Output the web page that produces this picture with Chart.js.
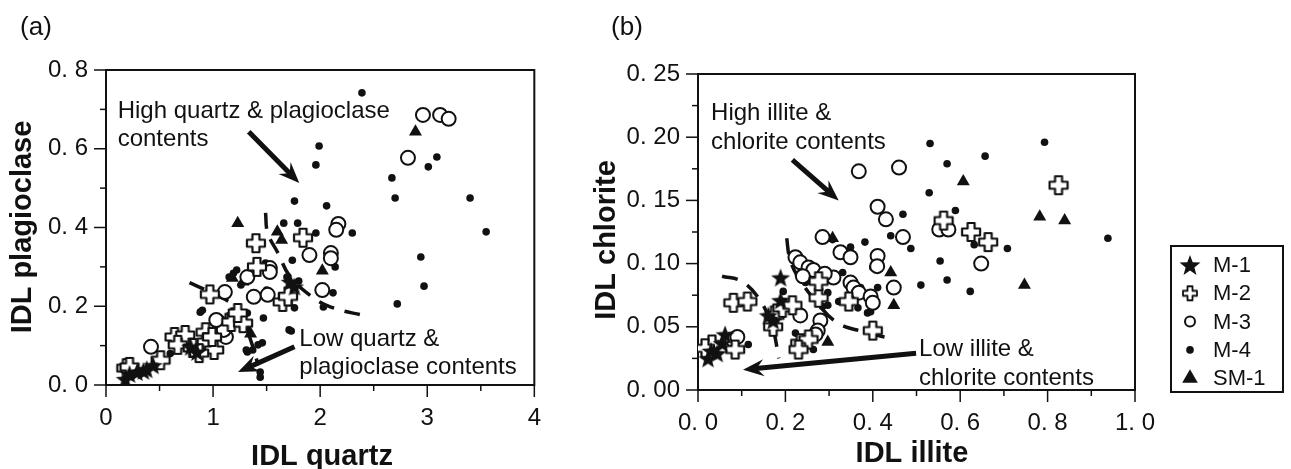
<!DOCTYPE html>
<html><head><meta charset="utf-8">
<script src="https://cdn.jsdelivr.net/npm/chart.js@4.4.0/dist/chart.umd.min.js"></script>
<style>
body{margin:0;background:#fff;width:1291px;height:469px;overflow:hidden;position:relative}
.box{position:absolute;top:0;height:469px}
#wa{left:0;width:560px}
#wb{left:560px;width:731px}
</style></head><body>
<div class="box" id="wa"><canvas id="ca"></canvas></div>
<div class="box" id="wb"><canvas id="cb"></canvas></div>
<script>
// ---- (a) IDL quartz vs IDL plagioclase ----
const seriesNames = ['M-1', 'M-2', 'M-3', 'M-4', 'SM-1'];

const aM1 = [[0.18,0.015],[0.22,0.028],[0.29,0.033],[0.35,0.036],[0.38,0.04],[0.44,0.05],[0.79,0.097],[0.85,0.084],[1.72,0.262],[1.76,0.25]];
const aM2 = [[1.40,0.36],[1.84,0.374],[1.41,0.30],[0.97,0.23],[1.20,0.172],[1.65,0.211],[1.70,0.225],[0.93,0.134],[1.17,0.16],
  [1.28,0.157],[0.64,0.122],[0.74,0.127],[0.67,0.102],[0.81,0.094],[0.94,0.109],[1.01,0.089],[0.99,0.122],[0.87,0.081],
  [0.19,0.043],[0.22,0.046],[0.51,0.063],[1.23,0.183]];
const aM3 = [[2.96,0.686],[3.12,0.686],[3.20,0.676],[2.82,0.577],[2.17,0.409],[2.15,0.394],[1.90,0.330],[2.10,0.335],
  [2.10,0.322],[2.02,0.241],[1.53,0.297],[1.32,0.274],[1.11,0.236],[1.38,0.224],[1.51,0.229],[1.05,0.16],[1.12,0.122],
  [0.42,0.097],[1.53,0.287],[1.10,0.14],[1.03,0.165]];
const aM4 = [[2.39,0.742],[1.99,0.607],[1.96,0.559],[3.09,0.579],[3.01,0.554],[2.67,0.526],[2.70,0.475],[3.40,0.475],
  [1.76,0.467],[2.06,0.455],[3.55,0.389],[2.30,0.386],[2.94,0.325],[2.97,0.251],[2.72,0.206],[1.66,0.411],[1.79,0.411],
  [1.96,0.386],[2.10,0.330],[2.12,0.317],[1.74,0.317],[1.80,0.264],[2.12,0.234],[2.03,0.198],[1.73,0.137],[1.47,0.170],
  [1.76,0.196],[1.49,0.310],[1.42,0.102],[1.37,0.089],[1.22,0.292],[1.15,0.274],[2.14,0.300],[0.88,0.185],[1.32,0.183],
  [1.69,0.274],[1.26,0.254],[1.46,0.107],[1.32,0.084],[1.44,0.020],[1.71,0.140],[1.50,0.241],[0.90,0.19],[1.19,0.284],
  [1.06,0.165],[1.31,0.089],[1.44,0.033],[1.0,0.13],[0.95,0.11],[0.85,0.09],[1.1,0.14],[1.25,0.16],[0.6,0.08]];
const aSM1 = [[1.23,0.411],[1.60,0.389],[1.64,0.368],[2.02,0.29],[2.89,0.643],[1.28,0.262],[1.18,0.272],[1.31,0.145],[1.35,0.13]];

const aBoundUpper = [[1.49,0.437],[1.51,0.386],[1.61,0.333],[1.71,0.279],[1.90,0.229],[2.10,0.198],[2.43,0.175]];
const aBoundLower = [[0.78,0.26],[1.0,0.232],[1.2,0.2],[1.3,0.15],[1.38,0.09],[1.42,0.05]];

const aXTicks = [0, 1, 2, 3, 4];
const aXLabels = ['0', '1', '2', '3', '4'];
const aYTicks = [0, 0.2, 0.4, 0.6, 0.8];
const aYLabels = ['0. 0', '0. 2', '0. 4', '0. 6', '0. 8'];

// ---- (b) IDL illite vs IDL chlorite ----
const bM1 = [[0.189,0.089],[0.161,0.059],[0.172,0.055],[0.189,0.071],[0.023,0.025],[0.044,0.029],[0.062,0.044],[0.055,0.037],[0.03,0.031]];
const bM2 = [[0.081,0.069],[0.113,0.070],[0.032,0.036],[0.085,0.032],[0.016,0.033],[0.175,0.059],[0.172,0.050],[0.193,0.065],
  [0.216,0.067],[0.234,0.037],[0.253,0.040],[0.276,0.073],[0.276,0.086],[0.345,0.070],[0.400,0.047],[0.562,0.134],
  [0.625,0.125],[0.664,0.117],[0.825,0.162],[0.23,0.032]];
const bM3 = [[0.368,0.173],[0.460,0.176],[0.411,0.145],[0.430,0.135],[0.469,0.121],[0.285,0.121],[0.326,0.109],[0.349,0.105],
  [0.411,0.106],[0.552,0.127],[0.573,0.127],[0.648,0.100],[0.223,0.105],[0.234,0.101],[0.253,0.097],[0.264,0.095],
  [0.310,0.089],[0.349,0.085],[0.356,0.081],[0.368,0.077],[0.395,0.074],[0.400,0.069],[0.448,0.081],[0.280,0.055],
  [0.274,0.047],[0.269,0.044],[0.234,0.059],[0.078,0.040],[0.090,0.042],[0.24,0.09],[0.29,0.092],[0.41,0.098]];
const bM4 = [[0.531,0.195],[0.793,0.196],[0.570,0.179],[0.657,0.185],[0.529,0.156],[0.469,0.139],[0.589,0.142],[0.441,0.122],
  [0.487,0.112],[0.632,0.115],[0.708,0.112],[0.554,0.102],[0.938,0.120],[0.570,0.087],[0.510,0.083],[0.623,0.078],
  [0.382,0.117],[0.308,0.119],[0.349,0.113],[0.400,0.097],[0.228,0.105],[0.230,0.091],[0.246,0.085],[0.297,0.077],
  [0.297,0.067],[0.331,0.093],[0.322,0.070],[0.372,0.081],[0.388,0.061],[0.411,0.081],[0.195,0.078],[0.205,0.066],
  [0.285,0.066],[0.264,0.032],[0.223,0.045],[0.115,0.036],[0.395,0.062],[0.366,0.065]];
const bSM1 = [[0.607,0.165],[0.782,0.137],[0.839,0.134],[0.747,0.083],[0.441,0.093],[0.448,0.067],[0.308,0.120],[0.297,0.038]];

const bBoundLeft = [[0.055,0.09],[0.10,0.086],[0.14,0.072],[0.17,0.05],[0.185,0.025]];
const bBoundRight = [[0.203,0.12],[0.21,0.104],[0.228,0.09],[0.27,0.07],[0.32,0.053],[0.38,0.046],[0.45,0.04]];

const bXTicks = [0, 0.2, 0.4, 0.6, 0.8, 1.0];
const bXLabels = ['0. 0', '0. 2', '0. 4', '0. 6', '0. 8', '1. 0'];
const bYTicks = [0, 0.05, 0.1, 0.15, 0.2, 0.25];
const bYLabels = ['0. 00', '0. 05', '0. 10', '0. 15', '0. 20', '0. 25'];

const INK = '#111';
const FONT = '"Liberation Sans", Arial, sans-serif';

function pts(arr) { return arr.map(p => ({x: p[0], y: p[1]})); }
function labelFor(v, ticks, labels) {
  const i = ticks.findIndex(t => Math.abs(t - v) < 1e-9);
  return i < 0 ? '' : labels[i];
}

function makeStar(r) {
  const c = document.createElement('canvas');
  const s = Math.ceil(r * 2 + 2);
  c.width = c.height = s;
  const g = c.getContext('2d');
  g.translate(s / 2, s / 2 + 1);
  g.beginPath();
  for (let i = 0; i < 10; i++) {
    const rr = i % 2 ? r * 0.42 : r;
    const a = -Math.PI / 2 + i * Math.PI / 5;
    g.lineTo(rr * Math.cos(a), rr * Math.sin(a));
  }
  g.closePath();
  g.fillStyle = INK;
  g.fill();
  return c;
}

function makeCross(size, arm, lw) {
  const c = document.createElement('canvas');
  const s = Math.ceil(size + 4);
  c.width = c.height = s;
  const g = c.getContext('2d');
  g.translate(s / 2, s / 2);
  const H = size / 2, h = arm / 2;
  const p = [[-h,-H],[h,-H],[h,-h],[H,-h],[H,h],[h,h],[h,H],[-h,H],[-h,h],[-H,h],[-H,-h],[-h,-h]];
  g.beginPath();
  p.forEach(q => g.lineTo(q[0], q[1]));
  g.closePath();
  g.fillStyle = '#fff';
  g.fill();
  g.lineJoin = 'round';
  g.lineWidth = lw;
  g.strokeStyle = INK;
  g.stroke();
  return c;
}

const starImg = makeStar(10);
const crossImg = makeCross(18, 7, 2.2);

function markerSets(m1, m2, m3, m4, sm1) {
  return [
    {label: seriesNames[0], data: pts(m1), pointStyle: starImg, pointRadius: 8},
    {label: seriesNames[1], data: pts(m2), pointStyle: crossImg, pointRadius: 8},
    {label: seriesNames[2], data: pts(m3), pointStyle: 'circle', pointRadius: 7, backgroundColor: '#fff', borderColor: INK, borderWidth: 2},
    {label: seriesNames[3], data: pts(m4), pointStyle: 'circle', pointRadius: 3.8, backgroundColor: INK, borderColor: INK, borderWidth: 0},
    {label: seriesNames[4], data: pts(sm1), pointStyle: 'triangle', pointRadius: 7.5, backgroundColor: INK, borderColor: INK, borderWidth: 0}
  ];
}

function boundary(arr) {
  return {label: 'boundary', data: pts(arr), showLine: true, pointRadius: 0, borderColor: INK,
    borderWidth: 3.5, borderDash: [16, 11], tension: 0.4, fill: false};
}

// frame, tick marks, arrows, notes, titles, legend
const decor = {
  id: 'decor',
  beforeDatasetsDraw(chart, args, o) {
    const {ctx, chartArea: a} = chart;
    ctx.save();
    ctx.strokeStyle = INK;
    ctx.lineWidth = 2;
    ctx.strokeRect(a.left, a.top, a.right - a.left, a.bottom - a.top);
    const xs = chart.scales.x, ys = chart.scales.y;
    ctx.lineWidth = 1.5;
    xs.ticks.forEach(t => {
      const px = xs.getPixelForValue(t.value);
      const len = labelFor(t.value, o.xTicks, o.xLabels) ? 12 : 6;
      ctx.beginPath(); ctx.moveTo(px, a.bottom); ctx.lineTo(px, a.bottom + len); ctx.stroke();
    });
    ys.ticks.forEach(t => {
      const py = ys.getPixelForValue(t.value);
      const len = labelFor(t.value, o.yTicks, o.yLabels) ? 12 : 6;
      ctx.beginPath(); ctx.moveTo(a.left, py); ctx.lineTo(a.left - len, py); ctx.stroke();
    });
    ctx.restore();
  },
  afterDatasetsDraw(chart, args, o) {
    const {ctx} = chart;
    const xs = chart.scales.x, ys = chart.scales.y;
    ctx.save();
    ctx.fillStyle = INK;
    ctx.strokeStyle = INK;
    o.arrows.forEach(ar => {
      const x1 = xs.getPixelForValue(ar.from[0]), y1 = ys.getPixelForValue(ar.from[1]);
      const x2 = xs.getPixelForValue(ar.to[0]), y2 = ys.getPixelForValue(ar.to[1]);
      const ang = Math.atan2(y2 - y1, x2 - x1), c = Math.cos(ang), s = Math.sin(ang);
      const L = 21, W = 8.5;
      ctx.lineWidth = 5;
      ctx.lineCap = 'butt';
      ctx.beginPath(); ctx.moveTo(x1, y1); ctx.lineTo(x2 - c * L * 0.6, y2 - s * L * 0.6); ctx.stroke();
      ctx.beginPath();
      ctx.moveTo(x2, y2);
      ctx.lineTo(x2 - c * L - s * W, y2 - s * L + c * W);
      ctx.lineTo(x2 - c * L * 0.65, y2 - s * L * 0.65);
      ctx.lineTo(x2 - c * L + s * W, y2 - s * L - c * W);
      ctx.closePath();
      ctx.fill();
    });
    ctx.font = '24px ' + FONT;
    ctx.textAlign = 'left';
    ctx.textBaseline = 'alphabetic';
    o.notes.forEach(n => {
      const x = xs.getPixelForValue(n.x), y = ys.getPixelForValue(n.y);
      n.lines.forEach((ln, i) => ctx.fillText(ln, x, y + i * o.lineGap));
    });
    ctx.restore();
  },
  afterDraw(chart, args, o) {
    const {ctx} = chart;
    ctx.save();
    ctx.fillStyle = INK;
    o.titles.forEach(t => {
      ctx.save();
      ctx.font = t.font;
      ctx.textAlign = 'center';
      ctx.textBaseline = 'alphabetic';
      ctx.translate(t.x, t.y);
      if (t.rot) ctx.rotate(-Math.PI / 2);
      ctx.fillText(t.text, 0, 0);
      ctx.restore();
    });
    if (o.legend) {
      const L = o.legend;
      ctx.strokeStyle = INK;
      ctx.lineWidth = 2;
      ctx.strokeRect(L.x, L.y, L.w, L.h);
      const sizes = [
        {pointStyle: makeStar(11), radius: 10},
        {pointStyle: makeCross(14, 5, 1.8), radius: 7},
        {pointStyle: 'circle', radius: 5, fill: '#fff', bw: 1.8},
        {pointStyle: 'circle', radius: 3.8, fill: INK, bw: 0},
        {pointStyle: 'triangle', radius: 9, fill: INK, bw: 0}
      ];
      ctx.font = '22px ' + FONT;
      ctx.textBaseline = 'middle';
      ctx.textAlign = 'left';
      chart.data.datasets.slice(0, 5).forEach((ds, i) => {
        const y = L.y + L.first + i * L.gap;
        const sz = sizes[i];
        ctx.fillStyle = sz.fill || INK;
        ctx.strokeStyle = INK;
        Chart.helpers.drawPoint(ctx, {pointStyle: sz.pointStyle, radius: sz.radius, rotation: 0, borderWidth: sz.bw || 0}, L.x + L.mark, y);
        ctx.fillStyle = INK;
        ctx.fillText(ds.label, L.x + L.text, y + 1);
      });
    }
    ctx.restore();
  }
};

function axis(min, max, step, ticks, labels, pad, fit) {
  return {
    type: 'linear', min: min, max: max,
    ticks: {stepSize: step, autoSkip: false, maxRotation: 0, padding: pad, color: INK,
      font: {family: FONT, size: 24}, callback: v => labelFor(v, ticks, labels)},
    grid: {display: false, drawTicks: false},
    border: {display: false},
    afterFit: fit
  };
}

function makeChart(id, datasets, cfg) {
  return new Chart(document.getElementById(id), {
    type: 'scatter',
    data: {datasets: datasets},
    plugins: [decor],
    options: {
      responsive: true, maintainAspectRatio: false, animation: false,
      layout: {padding: cfg.padding},
      plugins: {legend: {display: false}, tooltip: {enabled: false}, decor: cfg.decor},
      scales: {x: cfg.x, y: cfg.y}
    }
  });
}

makeChart('ca', [...markerSets(aM1, aM2, aM3, aM4, aSM1), boundary(aBoundUpper), boundary(aBoundLower)], {
  padding: {top: 70, right: 13, left: 0, bottom: 0},
  x: axis(0, 4, 0.5, aXTicks, aXLabels, 19, s => { s.height = 84; }),
  y: axis(0, 0.8, 0.1, aYTicks, aYLabels, 18, s => { s.width = 106; }),
  decor: {
    xTicks: aXTicks, xLabels: aXLabels, yTicks: aYTicks, yLabels: aYLabels,
    arrows: [{from: [1.333, 0.643], to: [1.805, 0.513]}, {from: [1.76, 0.097], to: [1.233, 0.033]}],
    notes: [{lines: ['High quartz & plagioclase', 'contents'], x: 0.109, y: 0.678},
            {lines: ['Low quartz &', 'plagioclase contents'], x: 1.805, y: 0.099}],
    lineGap: 28,
    titles: [
      {text: '(a)', x: 36, y: 35, font: '26px ' + FONT},
      {text: 'IDL plagioclase', x: 31, y: 227, rot: true, font: 'bold 29px ' + FONT},
      {text: 'IDL quartz', x: 322, y: 465, font: 'bold 29px ' + FONT}
    ]
  }
});

makeChart('cb', [...markerSets(bM1, bM2, bM3, bM4, bSM1), boundary(bBoundLeft), boundary(bBoundRight)], {
  padding: {top: 74, right: 156, left: 0, bottom: 0},
  x: axis(0, 1.0, 0.1, bXTicks, bXLabels, 19, s => { s.height = 79; }),
  y: axis(0, 0.25, 0.025, bYTicks, bYLabels, 18, s => { s.width = 138; }),
  decor: {
    xTicks: bXTicks, xLabels: bXLabels, yTicks: bYTicks, yLabels: bYLabels,
    arrows: [{from: [0.216, 0.182], to: [0.322, 0.150]}, {from: [0.499, 0.029], to: [0.103, 0.016]}],
    notes: [{lines: ['High illite &', 'chlorite contents'], x: 0.030, y: 0.2136},
            {lines: ['Low illite &', 'chlorite contents'], x: 0.506, y: 0.027}],
    lineGap: 29,
    titles: [
      {text: '(b)', x: 67, y: 35, font: '26px ' + FONT},
      {text: 'IDL chlorite', x: 55, y: 240, rot: true, font: 'bold 29px ' + FONT},
      {text: 'IDL illite', x: 352, y: 462, font: 'bold 29px ' + FONT}
    ],
    legend: {x: 611, y: 246, w: 112, h: 146, first: 19, gap: 28.3, mark: 19, text: 42}
  }
});
</script>
</body></html>
